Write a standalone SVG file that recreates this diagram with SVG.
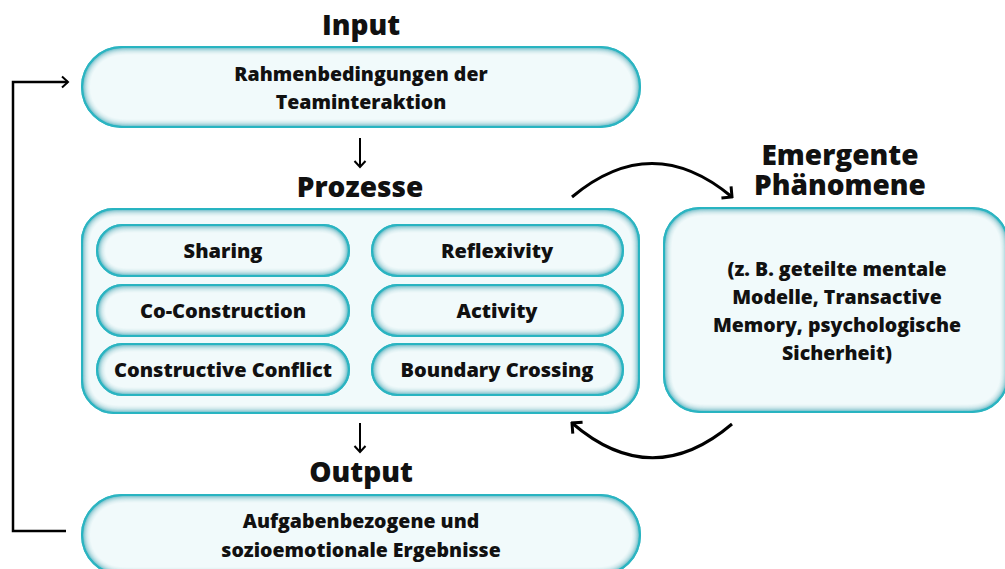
<svg xmlns="http://www.w3.org/2000/svg" width="1005" height="569" viewBox="0 0 1005 569">
<style>
.box{fill:#f1fafb;stroke:#36bac5;stroke-width:2;filter:url(#glow)}
.t{font-family:"Open Sans","Noto Sans",sans-serif;font-weight:800;fill:#111;text-anchor:middle}
.title{font-size:28px}
.body{font-size:19.5px}
.pill{font-size:20px}
.conn{fill:none;stroke:#000}
</style>
<defs>
<filter id="glow" x="-20%" y="-30%" width="140%" height="160%">
<feFlood flood-color="#2bb4c1" result="c"/>
<feComposite in="c" in2="SourceAlpha" operator="out" result="outside"/>
<feGaussianBlur in="outside" stdDeviation="5.5" result="blur"/>
<feComponentTransfer in="blur" result="boost"><feFuncA type="linear" slope="2.6" intercept="-0.1"/></feComponentTransfer>
<feComposite in="boost" in2="SourceAlpha" operator="in" result="inner"/>
<feMerge><feMergeNode in="SourceGraphic"/><feMergeNode in="inner"/></feMerge>
</filter>
<marker id="chev" viewBox="-12 -12 14 24" markerWidth="14" markerHeight="24" refX="0" refY="0" orient="auto" markerUnits="userSpaceOnUse">
<path d="M-7.5,-7.5 L0,0 L-7.5,7.5" fill="none" stroke="#000" stroke-width="3"/>
</marker>
<marker id="chevs" viewBox="-10 -10 12 20" markerWidth="12" markerHeight="20" refX="0" refY="0" orient="auto" markerUnits="userSpaceOnUse">
<path d="M-6,-5.5 L0,0 L-6,5.5" fill="none" stroke="#000" stroke-width="2"/>
</marker>
</defs>
<rect width="1005" height="569" fill="#fff"/>

<g id="input">
<text class="t title" x="361" y="35">Input</text>
<rect class="box" x="82" y="47" width="558" height="80" rx="40"/>
<text class="t body" x="361" y="81">Rahmenbedingungen der</text>
<text class="t body" x="361" y="109">Teaminteraktion</text>
</g>

<g id="prozesse">
<text class="t title" x="360" y="197">Prozesse</text>
<rect class="box" x="82" y="209" width="557" height="204" rx="32"/>
</g>
<g id="sharing">
<rect class="box" x="97" y="225" width="252" height="51" rx="25.5"/>
<text class="t pill" x="223" y="258">Sharing</text>
</g>
<g id="reflexivity">
<rect class="box" x="372" y="225" width="251" height="51" rx="25.5"/>
<text class="t pill" x="497" y="258">Reflexivity</text>
</g>
<g id="coconstruction">
<rect class="box" x="97" y="285" width="252" height="51" rx="25.5"/>
<text class="t pill" x="223" y="318">Co-Construction</text>
</g>
<g id="activity">
<rect class="box" x="372" y="285" width="251" height="51" rx="25.5"/>
<text class="t pill" x="497" y="318">Activity</text>
</g>
<g id="conflict">
<rect class="box" x="97" y="344" width="252" height="51" rx="25.5"/>
<text class="t pill" x="223" y="377">Constructive Conflict</text>
</g>
<g id="boundary">
<rect class="box" x="372" y="344" width="251" height="51" rx="25.5"/>
<text class="t pill" x="497" y="377">Boundary Crossing</text>
</g>

<g id="emergent">
<text class="t title" x="840" y="165">Emergente</text>
<text class="t title" x="840" y="195">Phänomene</text>
<rect class="box" x="664" y="208" width="344" height="204" rx="36"/>
<text class="t body" x="837" y="276">(z. B. geteilte mentale</text>
<text class="t body" x="837" y="304">Modelle, Transactive</text>
<text class="t body" x="837" y="332">Memory, psychologische</text>
<text class="t body" x="837" y="360">Sicherheit)</text>
</g>

<g id="output">
<text class="t title" x="361" y="482">Output</text>
<rect class="box" x="82" y="495" width="558" height="80" rx="40"/>
<text class="t body" x="361" y="528">Aufgabenbezogene und</text>
<text class="t body" x="361" y="557">sozioemotionale Ergebnisse</text>
</g>

<g id="connectors">
<path class="conn" d="M360,138 V167" stroke-width="2" marker-end="url(#chevs)"/>
<path class="conn" d="M360,423 V452" stroke-width="2" marker-end="url(#chevs)"/>
<path class="conn" d="M572,197 Q652,130 732,197" stroke-width="3" marker-end="url(#chev)"/>
<path class="conn" d="M732,424 Q652,492 572,423" stroke-width="3" marker-end="url(#chev)"/>
<path class="conn" d="M66,531 H13 V82 H68" stroke-width="2.5" marker-end="url(#chevs)"/>
</g>
</svg>
